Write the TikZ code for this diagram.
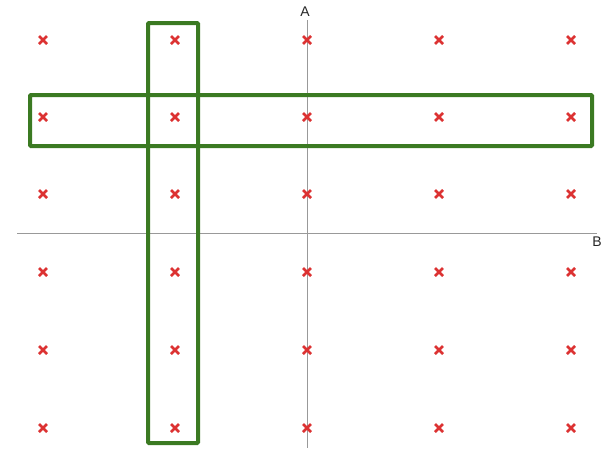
\documentclass[tikz,border=0pt]{standalone}
\usepackage{fontspec}
\setmainfont{Liberation Sans}
\definecolor{grn}{HTML}{3B7A22}
\definecolor{rd}{HTML}{DC3232}
\definecolor{axisgray}{HTML}{999999}
\begin{document}
\begin{tikzpicture}[x=1pt,y=-1pt,
  axisline/.style={draw=axisgray,line width=1pt},
  selbox/.style={draw=grn,line width=4pt,rounded corners=1pt},
  xmark/.style={draw=rd,line width=2.7pt},
  lbl/.style={font=\fontsize{14}{14}\selectfont,text=black!85}]
\useasboundingbox (0,0) rectangle (612,448);
\coordinate (ytop) at (307,20);
\coordinate (ybot) at (307,448);
\coordinate (xl) at (17,233);
\coordinate (xr) at (597,233);
\draw[axisline] (ytop) -- (ybot);
\draw[axisline] (xl) -- (xr);
\node[lbl] (A) at (305,12) {A};
\node[lbl] (B) at (597,242) {B};
\foreach \cx in {43,175,307,439,571}{
  \foreach \cy in {40,117,194,272,350,428}{
    \draw[xmark] (\cx-4,\cy-4) -- (\cx+4,\cy+4);
    \draw[xmark] (\cx-4,\cy+4) -- (\cx+4,\cy-4);
  }
}
\draw[selbox] (148,23) rectangle (198,443);
\draw[selbox] (30,95) rectangle (592,146);
\end{tikzpicture}
\end{document}
